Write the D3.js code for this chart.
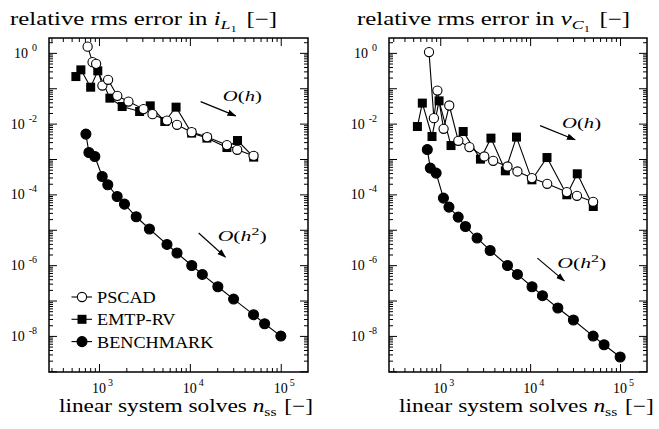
<!DOCTYPE html>
<html><head><meta charset="utf-8">
<script src="https://cdn.jsdelivr.net/npm/d3@7"></script>
<style>
body{margin:0;background:#fff;}
</style></head><body>
<svg id="chart" width="659" height="429"></svg>
<script>
// number of linear system solves, shared by both outputs
const nPscad = [750, 850, 930, 1090, 1260, 1590, 2110, 3090, 3880, 5600, 7220, 10460, 15480, 25580, 33200, 50200];
const nEmtp = [557, 632, 810, 970, 1318, 1800, 2800, 3665, 5300, 7050, 10460, 15400, 25580, 33450, 50400];
const nBench = [718, 775, 900, 1085, 1250, 1584, 1907, 2568, 3590, 5600, 7220, 10490, 13710, 20330, 30280, 50200, 66450, 100300];

// relative rms error in i_L1
const iL1Pscad = [1.5, 0.546, 0.489, 0.119, 0.173, 0.061, 0.042, 0.0257, 0.0185, 0.0122, 0.00925, 0.00575, 0.00416, 0.00247, 0.00182, 0.00123];
const iL1Emtp = [0.214, 0.331, 0.107, 0.31, 0.0525, 0.0304, 0.022, 0.0318, 0.0115, 0.0292, 0.0054, 0.0039, 0.00211, 0.00333, 0.00113];
const iL1Bench = [5.05e-3, 1.53e-3, 1.18e-3, 3.2e-4, 1.87e-4, 8.7e-5, 5.3e-5, 2.33e-5, 1.05e-5, 3.85e-6, 2.2e-6, 9.8e-7, 5.46e-7, 2.45e-7, 1.1e-7, 3.98e-8, 2.21e-8, 9.9e-9];

// relative rms error in v_C1
const vC1Pscad = [1.05, 0.0143, 0.0861, 0.00713, 0.0325, 0.00327, 0.00217, 0.00118, 8.9e-4, 6.14e-4, 4.44e-4, 2.89e-4, 1.99e-4, 1.16e-4, 9.12e-5, 6.18e-5];
const vC1Emtp = [0.00828, 0.038, 0.00432, 0.044, 0.0024, 0.00598, 9.9e-4, 0.00389, 4.64e-4, 0.00416, 2.58e-4, 0.0011, 9.75e-5, 3.82e-4, 4.55e-5];
const vC1Bench = [1.85e-3, 5.53e-4, 4.0e-4, 7.86e-5, 4.37e-5, 2.28e-5, 1.24e-5, 5.83e-6, 2.6e-6, 9.8e-7, 5.46e-7, 2.45e-7, 1.37e-7, 6.14e-8, 2.82e-8, 9.9e-9, 5.64e-9, 2.53e-9];

// tick labels (exponents of 10)
const xLabelExps = [3, 4, 5];
const yLabelExps = [0, -2, -4, -6, -8];
const legendNames = ["PSCAD", "EMTP-RV", "BENCHMARK"];

// slope hints: [order, n0, e0, n1, e1, nLabel, eLabel]
const hintsL = [
  ["h", 13150, 0.042, 31900, 0.0166, 37800, 0.044],
  ["h2", 12500, 8.07e-6, 24600, 1.69e-6, 37600, 4.7e-6]
];
const hintsR = [
  ["h", 12900, 8.8e-3, 31600, 3.5e-3, 37300, 7.6e-3],
  ["h2", 12050, 1.58e-6, 24000, 3.6e-7, 37500, 8.5e-7]
];

const FONT = '"Liberation Serif", "DejaVu Serif", serif';
let svg = d3.select("#chart").attr("font-family", FONT);

svg.append("defs").append("marker")
  .attr("id", "arr")
  .attr("viewBox", "0 0 10 10")
  .attr("refX", 9).attr("refY", 5)
  .attr("markerWidth", 9).attr("markerHeight", 9)
  .attr("markerUnits", "userSpaceOnUse")
  .attr("orient", "auto")
  .append("path").attr("d", "M0,1.5 L10,5 L0,8.5 Z").attr("fill", "#000");

// text in a group, stretched sideways so it covers the same width as the original (Computer Modern is wider)
function wideText(parent, x, y, width, size, build, anchor) {
  let g = parent.append("g");
  let t = g.append("text").attr("font-family", FONT).attr("font-size", size);
  build(t);
  let bb = t.node().getBBox();
  let sx = width / bb.width;
  let x0 = (anchor === "middle" ? x - width / 2 : x) - bb.x * sx;
  g.attr("transform", `translate(${x0},${y}) scale(${sx},1)`);
  return g;
}

function decadeTicks(dom) {
  let lo = Math.floor(Math.log10(dom[0])), hi = Math.ceil(Math.log10(dom[1]));
  let major = [], minor = [];
  for (let k = lo; k <= hi; k++) {
    let v = Math.pow(10, k);
    if (v >= dom[0] && v <= dom[1]) major.push(v);
    for (let m = 2; m <= 9; m++) {
      let w = m * v;
      if (w >= dom[0] && w <= dom[1]) minor.push(w);
    }
  }
  return { major, minor };
}

function drawMarks(g, pts, mark) {
  if (mark === "sq") {
    g.selectAll(null).data(pts).enter().append("rect")
      .attr("x", d => d[0] - 4.5).attr("y", d => d[1] - 4.5)
      .attr("width", 9).attr("height", 9).attr("fill", "#000");
  } else {
    g.selectAll(null).data(pts).enter().append("circle")
      .attr("cx", d => d[0]).attr("cy", d => d[1]).attr("r", mark === "oc" ? 4.6 : 5)
      .attr("fill", mark === "oc" ? "#fff" : "#000")
      .attr("stroke", "#000").attr("stroke-width", 1.1);
  }
}

function drawPanel(p) {
  let g = svg.append("g");
  let x = d3.scaleLog().domain(p.xDom).range([p.left, p.right]);
  let y = d3.scaleLog().domain(p.yDom).range([p.bottom, p.top]);
  let xt = decadeTicks(p.xDom), yt = decadeTicks(p.yDom);

  // ticks on all four sides, pointing in
  let addAx = (axis, tr) => {
    let a = g.append("g").attr("transform", tr).call(axis);
    a.select(".domain").remove();
    a.selectAll("line").attr("stroke", "#000").attr("stroke-width", 1);
  };
  [[xt.major, 8], [xt.minor, 4]].forEach(([vals, len]) => {
    addAx(d3.axisBottom(x).tickValues(vals).tickSize(-len).tickFormat(""), `translate(0,${p.bottom})`);
    addAx(d3.axisTop(x).tickValues(vals).tickSize(-len).tickFormat(""), `translate(0,${p.top})`);
  });
  [[yt.major, 8], [yt.minor, 4]].forEach(([vals, len]) => {
    addAx(d3.axisLeft(y).tickValues(vals).tickSize(-len).tickFormat(""), `translate(${p.left},0)`);
    addAx(d3.axisRight(y).tickValues(vals).tickSize(-len).tickFormat(""), `translate(${p.right},0)`);
  });

  g.append("rect")
    .attr("x", p.left).attr("y", p.top)
    .attr("width", p.right - p.left).attr("height", p.bottom - p.top)
    .attr("fill", "none").attr("stroke", "#000").attr("stroke-width", 1.5);

  // tick labels
  xLabelExps.forEach(k => {
    let px = x(Math.pow(10, k));
    g.append("text").attr("x", px).attr("y", p.bottom + 21)
      .attr("text-anchor", "middle").attr("font-size", 14).text("10");
    g.append("text").attr("x", px + 9).attr("y", p.bottom + 14)
      .attr("font-size", 10).text(k);
  });
  yLabelExps.forEach(k => {
    let py = y(Math.pow(10, k));
    let t = g.append("text").attr("x", p.left - 12).attr("y", py + 5)
      .attr("text-anchor", "end").attr("font-size", 14);
    t.append("tspan").text("10");
    t.append("tspan").attr("dx", 4).attr("dy", -7).attr("font-size", 10).text(k);
  });

  // series
  let line = d3.line().x(d => x(d[0])).y(d => y(d[1]));
  let series = [
    { n: nEmtp, e: p.emtp, mark: "sq" },
    { n: nPscad, e: p.pscad, mark: "oc" },
    { n: nBench, e: p.bench, mark: "fc" }
  ];
  series.forEach(s => {
    let pts = s.n.map((v, i) => [v, s.e[i]]);
    g.append("path").datum(pts).attr("d", line)
      .attr("fill", "none").attr("stroke", "#000").attr("stroke-width", 1.1);
    drawMarks(g, pts.map(d => [x(d[0]), y(d[1])]), s.mark);
  });

  // slope hints
  p.hints.forEach(hn => {
    g.append("line")
      .attr("x1", x(hn[1])).attr("y1", y(hn[2]))
      .attr("x2", x(hn[3])).attr("y2", y(hn[4]))
      .attr("stroke", "#000").attr("stroke-width", 1.2)
      .attr("marker-end", "url(#arr)");
    let sq = hn[0] === "h2";
    wideText(g, x(hn[5]), y(hn[6]), sq ? 49 : 39, 15, t => {
      t.append("tspan").attr("font-style", "italic").text("O");
      t.append("tspan").text("(");
      t.append("tspan").attr("font-style", "italic").text("h");
      if (sq) t.append("tspan").attr("dy", -6).attr("font-size", 11).text("2");
      t.append("tspan").attr("dy", sq ? 6 : 0).text(")");
    }, "middle");
  });

  // title
  wideText(g, p.titleX, 25, p.titleW, 18, t => {
    t.append("tspan").text("relative rms error in ");
    t.append("tspan").attr("font-style", "italic").text(p.sym[0]);
    t.append("tspan").attr("dy", 4).attr("font-style", "italic").attr("font-size", 13).text(p.sym[1]);
    t.append("tspan").attr("dy", 3).attr("font-size", 9).text("1");
    t.append("tspan").attr("dy", -7).attr("dx", 7).text("[\u2212]");
  });

  // x label
  wideText(g, p.xlabX, 412, p.xlabW, 18, t => {
    t.append("tspan").text("linear system solves ");
    t.append("tspan").attr("font-style", "italic").text("n");
    t.append("tspan").attr("dy", 4).attr("font-size", 12).text("ss");
    t.append("tspan").attr("dy", -4).attr("dx", 6).text("[\u2212]");
  });
}

let yDom = [Math.pow(10, -9.02), Math.pow(10, 0.42)];

drawPanel({
  left: 49, right: 308, top: 38, bottom: 372,
  xDom: [Math.pow(10, 2.45), Math.pow(10, 5.3)], yDom: yDom,
  pscad: iL1Pscad, emtp: iL1Emtp, bench: iL1Bench,
  hints: hintsL, sym: ["i", "L"],
  titleX: 10, titleW: 267, xlabX: 59, xlabW: 254
});
drawPanel({
  left: 389, right: 647, top: 38, bottom: 372,
  xDom: [Math.pow(10, 2.43), Math.pow(10, 5.3)], yDom: yDom,
  pscad: vC1Pscad, emtp: vC1Emtp, bench: vC1Bench,
  hints: hintsR, sym: ["v", "C"],
  titleX: 357, titleW: 273, xlabX: 399, xlabW: 255
});

// legend in left panel
let lg = svg.append("g");
legendNames.forEach((name, i) => {
  let ly = 297 + i * 22.3;
  lg.append("line").attr("x1", 71.5).attr("x2", 92).attr("y1", ly).attr("y2", ly)
    .attr("stroke", "#000").attr("stroke-width", 1.1);
  drawMarks(lg, [[82, ly]], ["oc", "sq", "fc"][i]);
  let g = lg.append("g").attr("transform", `translate(97,${ly + 6}) scale(1.14,1)`);
  g.append("text").attr("font-size", 16).text(name);
});
</script>
</body></html>
